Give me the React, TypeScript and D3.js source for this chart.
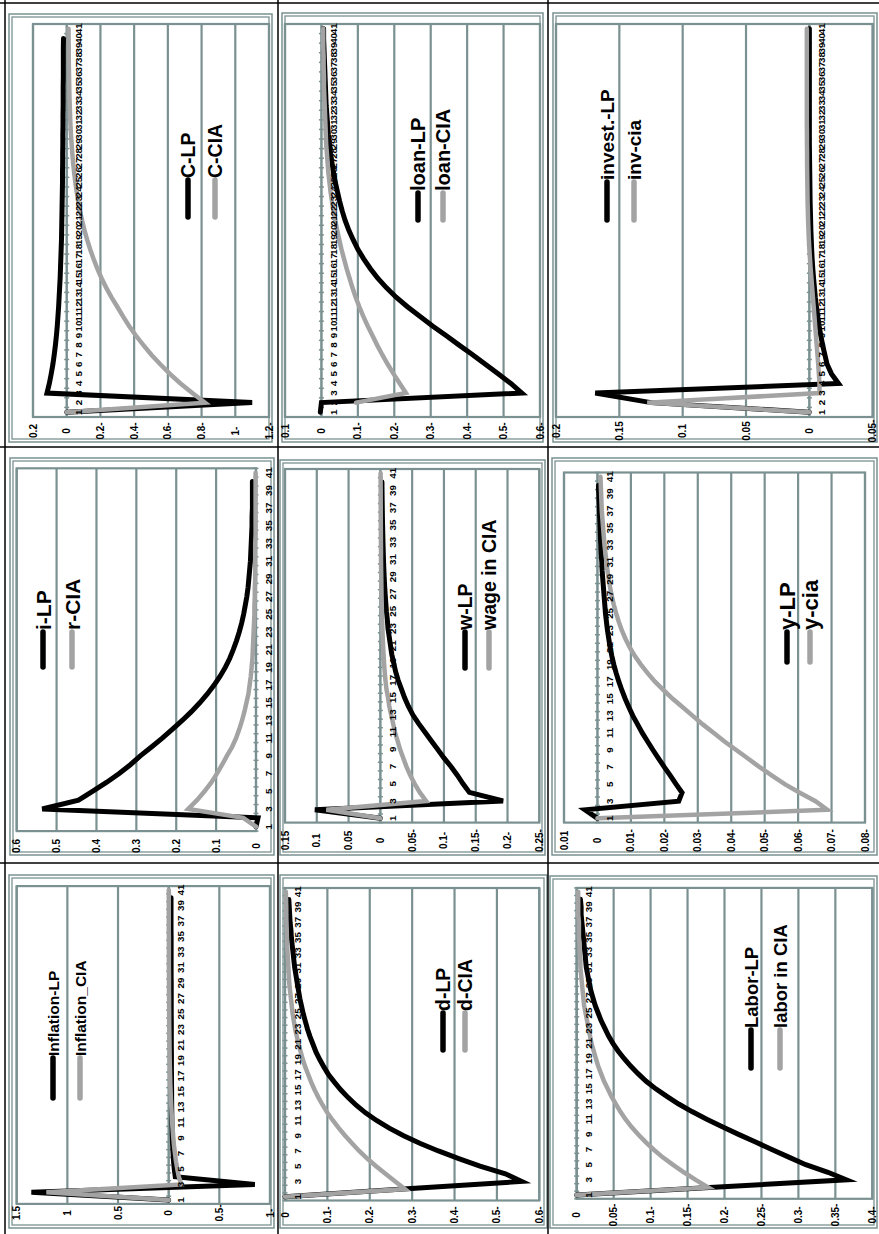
import React from 'react';
import * as d3 from 'd3';

const categories = [1,2,3,4,5,6,7,8,9,10,11,12,13,14,15,16,17,18,19,20,21,22,23,24,25,26,27,28,29,30,31,32,33,34,35,36,37,38,39,40,41];

// Consumption
const cLP = [0,-1.10,0.117,0.103,0.092,0.082,0.074,0.067,0.061,0.056,0.052,0.048,0.045,0.042,0.039,0.037,0.035,0.033,0.031,0.03,0.029,0.028,0.027,0.026,0.025,0.025,0.024,0.024,0.023,0.023,0.022,0.022,0.021,0.021,0.021,0.02,0.02,0.02,0.02,0.019];
const cCIA = [0,-0.82,-0.745,-0.675,-0.612,-0.555,-0.502,-0.455,-0.41,-0.37,-0.334,-0.3,-0.265,-0.234,-0.206,-0.181,-0.159,-0.139,-0.121,-0.105,-0.091,-0.079,-0.068,-0.059,-0.051,-0.044,-0.038,-0.033,-0.029,-0.025,-0.022,-0.02,-0.018,-0.016,-0.015,-0.014,-0.013,-0.012,-0.012,-0.011,-0.011];
// Loans
const loanLP = [0.003,0,-0.55,-0.52,-0.485,-0.45,-0.415,-0.378,-0.342,-0.305,-0.27,-0.236,-0.205,-0.178,-0.154,-0.134,-0.116,-0.1,-0.087,-0.075,-0.065,-0.057,-0.05,-0.044,-0.038,-0.033,-0.029,-0.025,-0.022,-0.019,-0.017,-0.015,-0.013,-0.012,-0.011,-0.01,-0.009,-0.008,-0.007,-0.006,-0.006];
const loanCIA = [null,-0.095,-0.232,-0.215,-0.198,-0.182,-0.167,-0.153,-0.14,-0.127,-0.115,-0.104,-0.094,-0.085,-0.077,-0.069,-0.062,-0.055,-0.049,-0.043,-0.038,-0.033,-0.029,-0.025,-0.022,-0.019,-0.017,-0.015,-0.013,-0.012,-0.011,-0.01,-0.009,-0.008,-0.007,-0.007,-0.006,-0.006,-0.005,-0.005,-0.005];
// Investment
const investLP = [0,0.125,0.169,-0.023,-0.0175,-0.014,-0.0122,-0.0105,-0.009,-0.0077,-0.0066,-0.0056,-0.0047,-0.004,-0.0033,-0.0027,-0.0022,-0.0018,-0.0015,-0.0012,-0.001,-0.0008,-0.0006,-0.0005,-0.0004,-0.0003,-0.0002,-0.0001,0,0,0,0,0,0,0,0,0,0,0,0,0];
const invCIA = [0,0.128,-0.008,-0.008,-0.0075,-0.007,-0.0064,-0.0058,-0.0052,-0.0046,-0.004,-0.0034,-0.0028,-0.0022,-0.0016,-0.001,-0.0005,0,0.0004,0.0007,0.001,0.0012,0.0014,0.0015,0.0016,0.0017,0.0018,0.0018,0.0019,0.0019,0.002,0.002,0.002,0.002,0.002,0.002,0.002,0.002,0.002,0.002,0.002];
// Interest rate
const iLP = [0,-0.005,0.536,0.445,0.41,0.375,0.343,0.315,0.29,0.262,0.235,0.21,0.185,0.162,0.141,0.122,0.105,0.09,0.077,0.066,0.057,0.049,0.042,0.036,0.031,0.027,0.023,0.02,0.018,0.016,0.014,0.013,0.012,0.011,0.01,0.01,0.009,0.009,0.009,0.009];
const rCIA = [0,0.032,0.17,0.148,0.129,0.112,0.098,0.085,0.073,0.06,0.05,0.042,0.035,0.029,0.024,0.019,0.016,0.013,0.011,0.009,0.008,0.007,0.006,0.005,0.004,0.004,0.003,0.003,0.002,0.002,0.002,0.002,0.002,0.001,0.001,0.001,0.001,0.001,0.001,0.001,0.001];
// Wage
const wLP = [0,0.103,-0.193,-0.14,-0.13,-0.121,-0.111,-0.1,-0.09,-0.08,-0.07,-0.06,-0.051,-0.044,-0.038,-0.033,-0.028,-0.024,-0.021,-0.018,-0.016,-0.014,-0.012,-0.011,-0.0095,-0.0085,-0.0075,-0.0067,-0.006,-0.0054,-0.0049,-0.0045,-0.0041,-0.0038,-0.0035,-0.0032,-0.003,-0.0028,-0.0026,-0.0025];
const wageCIA = [0,0.085,-0.072,-0.062,-0.054,-0.047,-0.041,-0.036,-0.031,-0.027,-0.023,-0.02,-0.017,-0.014,-0.012,-0.0095,-0.008,-0.0068,-0.0058,-0.005,-0.0043,-0.0037,-0.0032,-0.0028,-0.0024,-0.0021,-0.0018,-0.0016,-0.0014,-0.0012,-0.001,-0.001,-0.0009,-0.0008,-0.0007,-0.0006,-0.0006,-0.0005,-0.0005,-0.0004,-0.0004];
// Output
const yLP = [0,0.0037,-0.0243,-0.0253,-0.0235,-0.0218,-0.02,-0.0183,-0.0166,-0.015,-0.0134,-0.012,-0.0106,-0.0094,-0.0083,-0.0073,-0.0064,-0.0056,-0.0049,-0.0043,-0.0038,-0.0034,-0.003,-0.0027,-0.0024,-0.0022,-0.002,-0.0018,-0.0016,-0.0014,-0.0013,-0.0011,-0.001,-0.0009,-0.0008,-0.0007,-0.0006,-0.0005,-0.0004,-0.0003];
const yCIA = [0,-0.0687,-0.0652,-0.0605,-0.056,-0.0522,-0.0485,-0.045,-0.0415,-0.038,-0.0348,-0.0315,-0.0285,-0.0255,-0.0225,-0.0198,-0.0172,-0.015,-0.013,-0.0112,-0.0097,-0.0084,-0.0073,-0.0064,-0.0056,-0.0049,-0.0043,-0.0038,-0.0034,-0.003,-0.0027,-0.0024,-0.0021,-0.0019,-0.0017,-0.0015,-0.0013,-0.0012,-0.0011,-0.001,-0.0009];
// Inflation
const inflLP = [0,1.355,-0.85,-0.065,-0.055,-0.048,-0.043,-0.039,-0.036,-0.034,-0.032,-0.031,-0.03,-0.029,-0.029,-0.028,-0.028,-0.027,-0.027,-0.027,-0.026,-0.026,-0.026,-0.026,-0.025,-0.025,-0.025,-0.025,-0.025,-0.024,-0.024,-0.024,-0.024,-0.024,-0.024,-0.023,-0.023,-0.023,-0.023,-0.023];
const inflCIA = [0,1.207,-0.125,-0.1,-0.085,-0.072,-0.062,-0.053,-0.046,-0.04,-0.034,-0.03,-0.026,-0.022,-0.019,-0.016,-0.014,-0.012,-0.01,-0.009,-0.008,-0.007,-0.006,-0.005,-0.005,-0.004,-0.004,-0.003,-0.003,-0.003,-0.002,-0.002,-0.002,-0.002,-0.002,-0.001,-0.001,-0.001,-0.001,-0.001,-0.001];
// Deposits
const dLP = [0,-0.279,-0.558,-0.52,-0.46,-0.41,-0.362,-0.318,-0.28,-0.246,-0.216,-0.19,-0.168,-0.149,-0.132,-0.117,-0.103,-0.092,-0.082,-0.073,-0.066,-0.059,-0.053,-0.048,-0.043,-0.039,-0.035,-0.032,-0.029,-0.026,-0.023,-0.021,-0.019,-0.017,-0.015,-0.014,-0.012,-0.011,-0.01,-0.009];
const dCIA = [0,-0.283,-0.26,-0.237,-0.215,-0.194,-0.175,-0.158,-0.142,-0.127,-0.113,-0.1,-0.089,-0.079,-0.07,-0.062,-0.055,-0.048,-0.042,-0.037,-0.032,-0.028,-0.024,-0.021,-0.018,-0.016,-0.014,-0.012,-0.01,-0.009,-0.008,-0.007,-0.006,-0.005,-0.0045,-0.004,-0.0035,-0.003,-0.003,-0.0025,-0.002];
// Labor
const laborLP = [0,-0.18,-0.365,-0.34,-0.31,-0.287,-0.264,-0.242,-0.219,-0.197,-0.176,-0.156,-0.138,-0.122,-0.107,-0.094,-0.083,-0.073,-0.064,-0.056,-0.049,-0.043,-0.038,-0.033,-0.029,-0.025,-0.022,-0.019,-0.017,-0.015,-0.013,-0.012,-0.011,-0.01,-0.009,-0.008,-0.007,-0.006,-0.006,-0.005];
const laborCIA = [0,-0.178,-0.161,-0.145,-0.13,-0.116,-0.104,-0.093,-0.083,-0.074,-0.066,-0.059,-0.053,-0.047,-0.042,-0.037,-0.033,-0.029,-0.026,-0.023,-0.02,-0.018,-0.016,-0.014,-0.012,-0.01,-0.009,-0.008,-0.007,-0.006,-0.005,-0.005,-0.004,-0.004,-0.003,-0.003,-0.003,-0.002,-0.002,-0.002,-0.002];

// Value-axis ticks
const ticksC = [0.2,0,-0.2,-0.4,-0.6,-0.8,-1,-1.2];
const ticksLoan = [0.1,0,-0.1,-0.2,-0.3,-0.4,-0.5,-0.6];
const ticksInvest = [0.2,0.15,0.1,0.05,0,-0.05];
const ticksI = [0.6,0.5,0.4,0.3,0.2,0.1,0];
const ticksW = [0.15,0.1,0.05,0,-0.05,-0.1,-0.15,-0.2,-0.25];
const ticksY = [0.01,0,-0.01,-0.02,-0.03,-0.04,-0.05,-0.06,-0.07,-0.08];
const ticksInfl = [1.5,1,0.5,0,-0.5,-1];
const ticksD = [0,-0.1,-0.2,-0.3,-0.4,-0.5,-0.6];
const ticksLabor = [0,-0.05,-0.1,-0.15,-0.2,-0.25,-0.3,-0.35,-0.4];

// Legend names
const namesC = ['C-LP','C-CIA'];
const namesLoan = ['loan-LP','loan-CIA'];
const namesInvest = ['invest.-LP','inv-cia'];
const namesI = ['i-LP','r-CIA'];
const namesW = ['w-LP','wage in CIA'];
const namesY = ['y-LP','y-cia'];
const namesInfl = ['Inflation-LP','Inflation_CIA'];
const namesD = ['d-LP','d-CIA'];
const namesLabor = ['Labor-LP','labor in CIA'];

type Rect = { x: number; y: number; w: number; h: number };
type Panel = {
  black: (number | null)[];
  gray: (number | null)[];
  names: string[];
  ticks: number[];
  outer: Rect;
  plot: { x0: number; x1: number; y0: number; y1: number };
  labelY: number;
  allCats: boolean;
  legend: { bx: number; gx: number; top: number; bottom: number; fs: number };
};

const panels: Panel[] = [
  { black: cLP, gray: cCIA, names: namesC, ticks: ticksC, outer: { x: 9, y: 14, w: 263, h: 428 }, plot: { x0: 33, x1: 269, y0: 24, y1: 417 }, labelY: 431, allCats: true, legend: { bx: 188, gx: 215, top: 180, bottom: 217, fs: 19.5 } },
  { black: loanLP, gray: loanCIA, names: namesLoan, ticks: ticksLoan, outer: { x: 282, y: 13, w: 261, h: 429 }, plot: { x0: 285, x1: 540, y0: 24, y1: 417 }, labelY: 431, allCats: true, legend: { bx: 418, gx: 443, top: 193, bottom: 220, fs: 20 } },
  { black: investLP, gray: invCIA, names: namesInvest, ticks: ticksInvest, outer: { x: 553, y: 13, w: 324, h: 429 }, plot: { x0: 556, x1: 872.7, y0: 24, y1: 417 }, labelY: 431, allCats: true, legend: { bx: 607, gx: 634, top: 182, bottom: 220, fs: 19 } },
  { black: iLP, gray: rCIA, names: namesI, ticks: ticksI, outer: { x: 10, y: 458, w: 264, h: 397 }, plot: { x0: 16.7, x1: 256, y0: 468.3, y1: 831.1 }, labelY: 846, allCats: false, legend: { bx: 43, gx: 72, top: 632, bottom: 667, fs: 21 } },
  { black: wLP, gray: wageCIA, names: namesW, ticks: ticksW, outer: { x: 280, y: 460, w: 265, h: 395 }, plot: { x0: 285, x1: 539.3, y0: 469, y1: 822.6 }, labelY: 840.5, allCats: false, legend: { bx: 465, gx: 489, top: 632, bottom: 668, fs: 19.5 } },
  { black: yLP, gray: yCIA, names: namesY, ticks: ticksY, outer: { x: 552, y: 458, w: 325, h: 397 }, plot: { x0: 564, x1: 865, y0: 472.5, y1: 822.6 }, labelY: 840.5, allCats: false, legend: { bx: 787, gx: 810, top: 632, bottom: 662, fs: 22 } },
  { black: inflLP, gray: inflCIA, names: namesInfl, ticks: ticksInfl, outer: { x: 9, y: 875, w: 265, h: 353 }, plot: { x0: 16.7, x1: 270, y0: 886.1, y1: 1203.9 }, labelY: 1213, allCats: false, legend: { bx: 53, gx: 80, top: 1058, bottom: 1098, fs: 15.5 } },
  { black: dLP, gray: dCIA, names: namesD, ticks: ticksD, outer: { x: 280, y: 875, w: 267, h: 353 }, plot: { x0: 285, x1: 539.3, y0: 888, y1: 1200.5 }, labelY: 1215, allCats: false, legend: { bx: 443, gx: 465, top: 1013, bottom: 1050, fs: 19.5 } },
  { black: laborLP, gray: laborCIA, names: namesLabor, ticks: ticksLabor, outer: { x: 550, y: 876, w: 327, h: 352 }, plot: { x0: 576.7, x1: 872.3, y0: 887.9, y1: 1198.8 }, labelY: 1215, allCats: false, legend: { bx: 751, gx: 780, top: 1030, bottom: 1068, fs: 18.5 } },
];

const GRID = '#7b9191';
const GRAYLINE = '#a3a3a3';
const NARROW = "'Liberation Sans Narrow', 'Liberation Sans', Arial, sans-serif";

const fmt = (v: number) => {
  if (v === 0) return '0';
  const s = String(+Math.abs(v).toFixed(3));
  return v < 0 ? s + '-' : s;
};

function PanelView({ p }: { p: Panel }) {
  const x = d3.scaleLinear().domain([p.ticks[0], p.ticks[p.ticks.length - 1]]).range([p.plot.x0, p.plot.x1]);
  const y = d3.scaleBand<number>().domain(categories).range([p.plot.y1, p.plot.y0]).padding(0);
  const bw = y.bandwidth();
  const cy = (c: number) => (y(c) as number) + bw / 2;
  type Pt = { c: number; v: number | null };
  const line = d3
    .line<Pt>()
    .defined((d) => d.v !== null && d.v !== undefined)
    .x((d) => x(d.v as number))
    .y((d) => cy(d.c));
  const toPts = (arr: (number | null)[]): Pt[] => arr.map((v, i) => ({ c: categories[i], v }));
  const x0 = x(0);
  const catLabels = p.allCats ? categories : categories.filter((c) => c % 2 === 1);
  const boundaries = d3.range(categories.length + 1).map((i) => p.plot.y1 - i * bw);
  const o = p.outer;
  return (
    <g>
      <rect x={o.x} y={o.y} width={o.w} height={o.h} fill="#fff" stroke={GRID} strokeWidth={1.5} />
      <rect x={o.x + 3} y={o.y + 3} width={o.w - 6} height={o.h - 6} fill="none" stroke={GRID} strokeWidth={1.3} />
      {p.ticks.map((t, i) => (
        <line key={'g' + i} x1={x(t)} x2={x(t)} y1={p.plot.y0} y2={p.plot.y1} stroke={GRID} strokeWidth={2.2} />
      ))}
      <rect x={p.plot.x0} y={p.plot.y0} width={p.plot.x1 - p.plot.x0} height={p.plot.y1 - p.plot.y0} fill="none" stroke={GRID} strokeWidth={2.2} />
      <line x1={x0} x2={x0} y1={p.plot.y0} y2={p.plot.y1} stroke={GRID} strokeWidth={1.8} />
      {boundaries.map((b, i) => (
        <line key={'t' + i} x1={x0 - 2.5} x2={x0 + 2.5} y1={b} y2={b} stroke={GRID} strokeWidth={1.5} />
      ))}
      {p.ticks.map((t, i) => (
        <text
          key={'v' + i}
          transform={`translate(${x(t)},${p.labelY}) rotate(-90)`}
          textAnchor="middle"
          dominantBaseline="central"
          fontFamily={NARROW}
          fontWeight="bold"
          fontSize={10}
          fill="#000"
        >
          {fmt(t)}
        </text>
      ))}
      <path d={line(toPts(p.black)) || ''} fill="none" stroke="#000" strokeWidth={5} strokeLinejoin="miter" strokeMiterlimit={6} strokeLinecap="round" />
      <path d={line(toPts(p.gray)) || ''} fill="none" stroke={GRAYLINE} strokeWidth={4.5} strokeLinejoin="miter" strokeMiterlimit={6} strokeLinecap="round" />
      {catLabels.map((c) => (
        <text
          key={'c' + c}
          transform={`translate(${x0 + 12},${cy(c)}) rotate(-90)`}
          textAnchor="middle"
          dominantBaseline="central"
          fontFamily={NARROW}
          fontWeight="bold"
          fontSize={9.8}
          fill="#000"
        >
          {c}
        </text>
      ))}
      {[p.legend.bx, p.legend.gx].map((lx, i) => (
        <g key={'l' + i}>
          <line x1={lx} x2={lx} y1={p.legend.bottom} y2={p.legend.top} stroke={i === 0 ? '#000' : GRAYLINE} strokeWidth={5.5} strokeLinecap="round" />
          <text
            transform={`translate(${lx},${p.legend.top - 2}) rotate(-90)`}
            textAnchor="start"
            dominantBaseline="central"
            fontFamily={NARROW}
            fontWeight="bold"
            fontSize={p.legend.fs}
            fill="#000"
          >
            {p.names[i]}
          </text>
        </g>
      ))}
    </g>
  );
}

export default function App() {
  const W = 879;
  const H = 1234;
  return (
    <svg width={W} height={H} viewBox={`0 0 ${W} ${H}`} style={{ position: 'absolute', left: 0, top: 0, background: '#fff' }}>
      <rect x={0} y={0} width={W} height={H} fill="#fff" />
      {panels.map((p, i) => (
        <PanelView key={i} p={p} />
      ))}
      {[3, 447, 863].map((yy, i) => (
        <line key={'h' + i} x1={0} x2={W} y1={yy} y2={yy} stroke="#000" strokeWidth={1.5} />
      ))}
      {[5, 278, 548].map((xx, i) => (
        <line key={'vv' + i} x1={xx} x2={xx} y1={0} y2={H} stroke="#000" strokeWidth={1.5} />
      ))}
    </svg>
  );
}
